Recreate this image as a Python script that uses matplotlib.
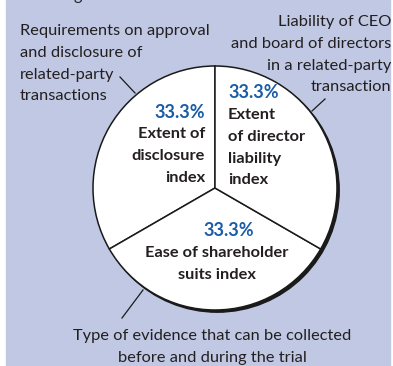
import numpy as np
import matplotlib.pyplot as plt
from matplotlib.patches import Rectangle, Circle

# data
slices = ["Extent of\ndisclosure\nindex",
          "Ease of shareholder\nsuits index",
          "Extent\nof director\nliability\nindex"]
shares = [33.3, 33.3, 33.3]
outer = ["Requirements on approval\nand disclosure of\nrelated-party\ntransactions",
         "Type of evidence that can be collected\nbefore and during the trial",
         "Liability of CEO\nand board of directors\nin a related-party\ntransaction"]

W, H = 393, 366
bg = '#c0c8e4'
blue = '#1a5ca6'
dark = '#231f20'
fam = ['Lato', 'DejaVu Sans']

fig = plt.figure(figsize=(W / 100, H / 100), dpi=100)
ax = fig.add_axes([0, 0, 1, 1])
ax.add_patch(Rectangle((6, 0), 384, H, color=bg, zorder=0))

cx, cy, r = 215, H - 188, 122
# darker rim on the lower right
ax.add_patch(Circle((cx + 2.2, cy - 2.2), r, color='#1a1a1a', zorder=1))
wedges, _ = ax.pie(shares, startangle=90, counterclock=True, center=(cx, cy), radius=r,
                   colors=['white'] * 3, wedgeprops=dict(edgecolor='#1a1a1a', linewidth=1.1))
for w in wedges:
    w.set_zorder(2)

def yy(y):
    return H - y

def lines(x, y0, text, ha, step=21.8, **kw):
    for i, s in enumerate(text.split('\n')):
        ax.text(x, yy(y0 + i * step), s, ha=ha, va='center', color=dark,
                family=fam, zorder=3, **kw)

# slice labels: percent (x, y, ha), label (x, first line y, ha)
pos = [((205, 112, 'right'), (205, 134, 'right')),
       ((229, 230, 'center'), (217, 253, 'center')),
       ((228, 93, 'left'), (228, 115, 'left'))]
for name, val, (p, l) in zip(slices, shares, pos):
    ax.text(p[0], yy(p[1]), f"{val:.1f}%", ha=p[2], va='center', color=blue,
            fontsize=13, fontweight='bold', family=fam, zorder=3)
    lines(l[0], l[1], name, l[2], fontsize=11.8, fontweight='bold')

# outer labels
lines(20, 31, outer[0], 'left', fontsize=11.8)
lines(391, 22, outer[2], 'right', fontsize=11.8)
lines(212, 336, outer[1], 'center', fontsize=11.8)
ax.text(78, yy(-4), "g", ha='center', va='center', color=dark, fontsize=11.8, family=fam)

# leader lines
for (x0, y0), (x1, y1) in [((120, 77), (135, 93)), ((325, 99), (312, 111)), ((143, 290), (122, 318))]:
    ax.plot([x0, x1], [yy(y0), yy(y1)], color='#1a1a1a', lw=0.9, zorder=3)

ax.set_xlim(0, W)
ax.set_ylim(0, H)
ax.set_aspect('auto')
ax.axis('off')
fig.savefig('out.png', dpi=100, facecolor='white')
